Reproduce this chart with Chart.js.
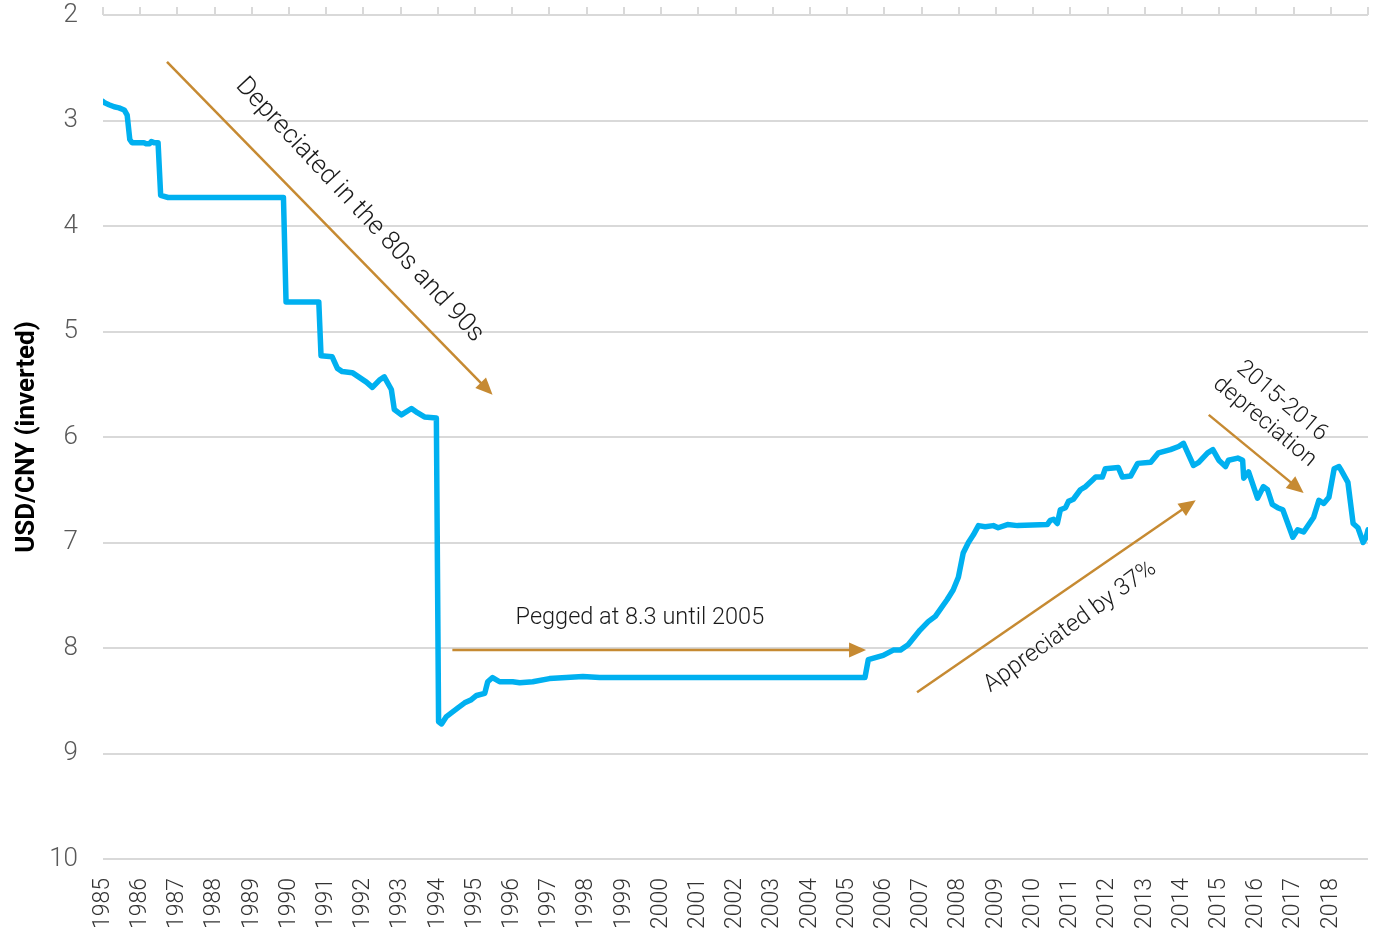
<!DOCTYPE html>
<html>
<head>
<meta charset="utf-8">
<script src="https://cdn.jsdelivr.net/npm/chart.js@4/dist/chart.umd.min.js"></script>
<style>
  html, body { margin: 0; padding: 0; background: #ffffff; }
  #wrap { width: 1386px; height: 933px; }
</style>
</head>
<body>
<div id="wrap"><canvas id="c" width="1386" height="933"></canvas></div>
<script>
// ---- Data ----
const years = [
  1985.00, 1985.03, 1985.16, 1985.30, 1985.43, 1985.57, 1985.65, 1985.72, 1985.78,
  1986.10, 1986.16, 1986.25, 1986.30, 1986.37, 1986.43, 1986.48, 1986.55, 1986.75,
  1989.85, 1989.92, 1990.80, 1990.86,
  1991.16, 1991.30, 1991.43, 1991.70, 1992.08, 1992.24, 1992.43, 1992.56, 1992.75, 1992.83,
  1993.02, 1993.29, 1993.45, 1993.64, 1993.96,
  1994.02, 1994.10, 1994.23, 1994.53, 1994.72, 1994.90, 1995.04, 1995.26, 1995.34, 1995.47, 1995.66,
  1996.01, 1996.20, 1996.55, 1997.00, 1997.90, 1998.35, 2000.00, 2002.00, 2004.00, 2005.48,
  2005.57, 2005.97, 2006.24, 2006.43, 2006.64, 2006.96, 2007.18, 2007.37, 2007.69, 2007.85, 2007.99,
  2008.12, 2008.26, 2008.39, 2008.53, 2008.71, 2008.93, 2009.06, 2009.31, 2009.58, 2010.38,
  2010.46, 2010.55, 2010.65, 2010.73, 2010.87, 2010.95, 2011.08, 2011.27, 2011.41, 2011.59,
  2011.68, 2011.86, 2011.94, 2012.29, 2012.40, 2012.62, 2012.81, 2013.16, 2013.37, 2013.69,
  2013.91, 2014.04, 2014.18, 2014.31, 2014.45, 2014.69, 2014.83, 2014.99, 2015.17, 2015.25,
  2015.50, 2015.63, 2015.66, 2015.79, 2016.03, 2016.19, 2016.30, 2016.43, 2016.57, 2016.71,
  2016.98, 2017.11, 2017.27, 2017.54, 2017.68, 2017.81, 2017.95, 2018.09, 2018.22, 2018.27,
  2018.46, 2018.60, 2018.73, 2018.87, 2018.95, 2019.00
];
const usdcny = [
  2.82, 2.83, 2.85, 2.87, 2.88, 2.90, 2.95, 3.18, 3.21,
  3.21, 3.22, 3.22, 3.20, 3.21, 3.21, 3.21, 3.71, 3.73,
  3.73, 4.72, 4.72, 5.23,
  5.24, 5.35, 5.38, 5.39, 5.48, 5.53, 5.46, 5.43, 5.55, 5.74,
  5.79, 5.73, 5.77, 5.81, 5.82,
  8.70, 8.72, 8.65, 8.57, 8.52, 8.49, 8.45, 8.43, 8.32, 8.28, 8.32,
  8.32, 8.33, 8.32, 8.29, 8.27, 8.28, 8.28, 8.28, 8.28, 8.28,
  8.11, 8.07, 8.02, 8.02, 7.97, 7.83, 7.75, 7.70, 7.54, 7.45, 7.33,
  7.10, 7.00, 6.93, 6.84, 6.85, 6.84, 6.86, 6.83, 6.84, 6.83,
  6.79, 6.78, 6.82, 6.69, 6.67, 6.61, 6.59, 6.50, 6.47, 6.41,
  6.38, 6.38, 6.30, 6.29, 6.38, 6.37, 6.25, 6.24, 6.15, 6.12,
  6.09, 6.06, 6.17, 6.27, 6.24, 6.15, 6.12, 6.22, 6.28, 6.22,
  6.20, 6.22, 6.39, 6.33, 6.58, 6.47, 6.50, 6.64, 6.67, 6.69,
  6.95, 6.88, 6.90, 6.76, 6.60, 6.63, 6.57, 6.30, 6.28, 6.31,
  6.43, 6.82, 6.86, 7.00, 6.95, 6.88
];
const yearLabels = [1985, 1986, 1987, 1988, 1989, 1990, 1991, 1992, 1993, 1994, 1995, 1996,
  1997, 1998, 1999, 2000, 2001, 2002, 2003, 2004, 2005, 2006, 2007, 2008, 2009, 2010,
  2011, 2012, 2013, 2014, 2015, 2016, 2017, 2018];
const topTickYears = [1985, 1986, 1987, 1988, 1989, 1990, 1991, 1992, 1993, 1994, 1995, 1996,
  1997, 1998, 1999, 2000, 2001, 2002, 2003, 2004, 2005, 2006, 2007, 2008, 2009, 2010,
  2011, 2012, 2013, 2014, 2015, 2016, 2017, 2018, 2019];
const yTicks = [2, 3, 4, 5, 6, 7, 8, 9, 10];
const yTitle = 'USD/CNY (inverted)';

// annotation arrows (data coordinates: year, rate)
const arrowFromYear = [1986.72, 1994.39, 2006.88, 2014.72];
const arrowFromRate = [2.445, 8.02, 8.42, 5.79];
const arrowToYear = [1995.47, 2005.51, 2014.37, 2017.27];
const arrowToRate = [5.60, 8.02, 6.60, 6.53];
// annotation texts
const noteTexts = [['Depreciated in the 80s and 90s'], ['Pegged at 8.3 until 2005'], ['Appreciated by 37%'], ['2015-2016', 'depreciation']];
const noteYear = [1991.89, 1999.43, 2011.0, 2016.45];
const noteRate = [3.85, 7.716, 7.80, 5.76];
const noteAngle = [47, 0, -36, 40];
const noteSize = [26, 23.5, 24, 23.5];

const LINE_BLUE = '#00B0F0';
const ARROW = '#C68A32';
const GRID = '#D9D9D9';

const annotationPlugin = {
  id: 'notes',
  afterDatasetsDraw(chart) {
    const ctx = chart.ctx;
    const xs = chart.scales.x, ys = chart.scales.y;
    ctx.save();
    for (let i = 0; i < arrowFromYear.length; i++) {
      const x1 = xs.getPixelForValue(arrowFromYear[i]);
      const y1 = ys.getPixelForValue(arrowFromRate[i]);
      const x2 = xs.getPixelForValue(arrowToYear[i]);
      const y2 = ys.getPixelForValue(arrowToRate[i]);
      const ang = Math.atan2(y2 - y1, x2 - x1);
      const head = 17, half = 7.5;
      const bx = x2 - head * Math.cos(ang), by = y2 - head * Math.sin(ang);
      ctx.strokeStyle = ARROW;
      ctx.lineWidth = 2.5;
      ctx.beginPath();
      ctx.moveTo(x1, y1);
      ctx.lineTo(bx + 2 * Math.cos(ang), by + 2 * Math.sin(ang));
      ctx.stroke();
      ctx.fillStyle = ARROW;
      ctx.beginPath();
      ctx.moveTo(x2, y2);
      ctx.lineTo(bx - half * Math.sin(ang), by + half * Math.cos(ang));
      ctx.lineTo(bx + half * Math.sin(ang), by - half * Math.cos(ang));
      ctx.closePath();
      ctx.fill();
    }
    for (let i = 0; i < noteTexts.length; i++) {
      const cx = xs.getPixelForValue(noteYear[i]);
      const cy = ys.getPixelForValue(noteRate[i]);
      ctx.save();
      ctx.translate(cx, cy);
      ctx.rotate(noteAngle[i] * Math.PI / 180);
      ctx.fillStyle = '#1A1A1A';
      ctx.font = '300 ' + noteSize[i] + 'px Roboto, "DejaVu Sans", sans-serif';
      ctx.textAlign = 'center';
      ctx.textBaseline = 'middle';
      const lines = noteTexts[i];
      const lh = noteSize[i] * 1.15;
      lines.forEach((t, k) => {
        ctx.fillText(t, 0, (k - (lines.length - 1) / 2) * lh);
      });
      ctx.restore();
    }
    ctx.restore();
  }
};

new Chart(document.getElementById('c'), {
  type: 'line',
  data: {
    datasets: [{
      data: years.map((y, i) => ({ x: y, y: usdcny[i] })),
      borderColor: LINE_BLUE,
      borderWidth: 5.5,
      pointRadius: 0,
      tension: 0,
      fill: false,
      borderJoinStyle: 'round',
      borderCapStyle: 'round'
    }]
  },
  options: {
    responsive: false,
    animation: false,
    devicePixelRatio: 1,
    layout: { padding: { left: 0, right: 18, top: 0, bottom: 0 } },
    plugins: { legend: { display: false }, tooltip: { enabled: false } },
    scales: {
      x: {
        type: 'linear',
        position: 'bottom',
        min: 1985, max: 2019,
        afterBuildTicks: (s) => { s.ticks = yearLabels.map(v => ({ value: v })); },
        afterFit: (s) => { s.height = 74; s.paddingLeft = 0; s.paddingRight = 0; },
        grid: { display: false, drawTicks: false },
        border: { display: false },
        ticks: {
          autoSkip: false, minRotation: 90, maxRotation: 90, padding: 19,
          color: '#333333',
          font: { family: 'Roboto', size: 23, weight: '300' },
          callback: (v) => String(v)
        }
      },
      x2: {
        type: 'linear',
        position: 'top',
        min: 1985, max: 2019,
        afterBuildTicks: (s) => { s.ticks = topTickYears.map(v => ({ value: v })); },
        afterFit: (s) => { s.height = 15; s.paddingLeft = 0; s.paddingRight = 0; },
        grid: { display: true, drawOnChartArea: false, drawTicks: true, tickLength: 8, color: GRID, lineWidth: 2 },
        border: { display: false },
        ticks: { display: false }
      },
      y: {
        type: 'linear',
        reverse: true,
        min: 2, max: 10,
        afterBuildTicks: (s) => { s.ticks = yTicks.map(v => ({ value: v })); },
        afterFit: (s) => { s.width = 103; s.paddingTop = 0; s.paddingBottom = 0; },
        grid: { color: GRID, lineWidth: 2, drawTicks: false },
        border: { display: false },
        ticks: {
          padding: 25,
          color: '#595959',
          font: { family: 'Roboto', size: 26, weight: '300' }
        },
        title: {
          display: true,
          text: yTitle,
          color: '#000000',
          font: { family: 'Roboto', size: 26, weight: 'bold' },
          padding: { top: 12, bottom: 0 }
        }
      }
    }
  },
  plugins: [annotationPlugin]
});
</script>
</body>
</html>
